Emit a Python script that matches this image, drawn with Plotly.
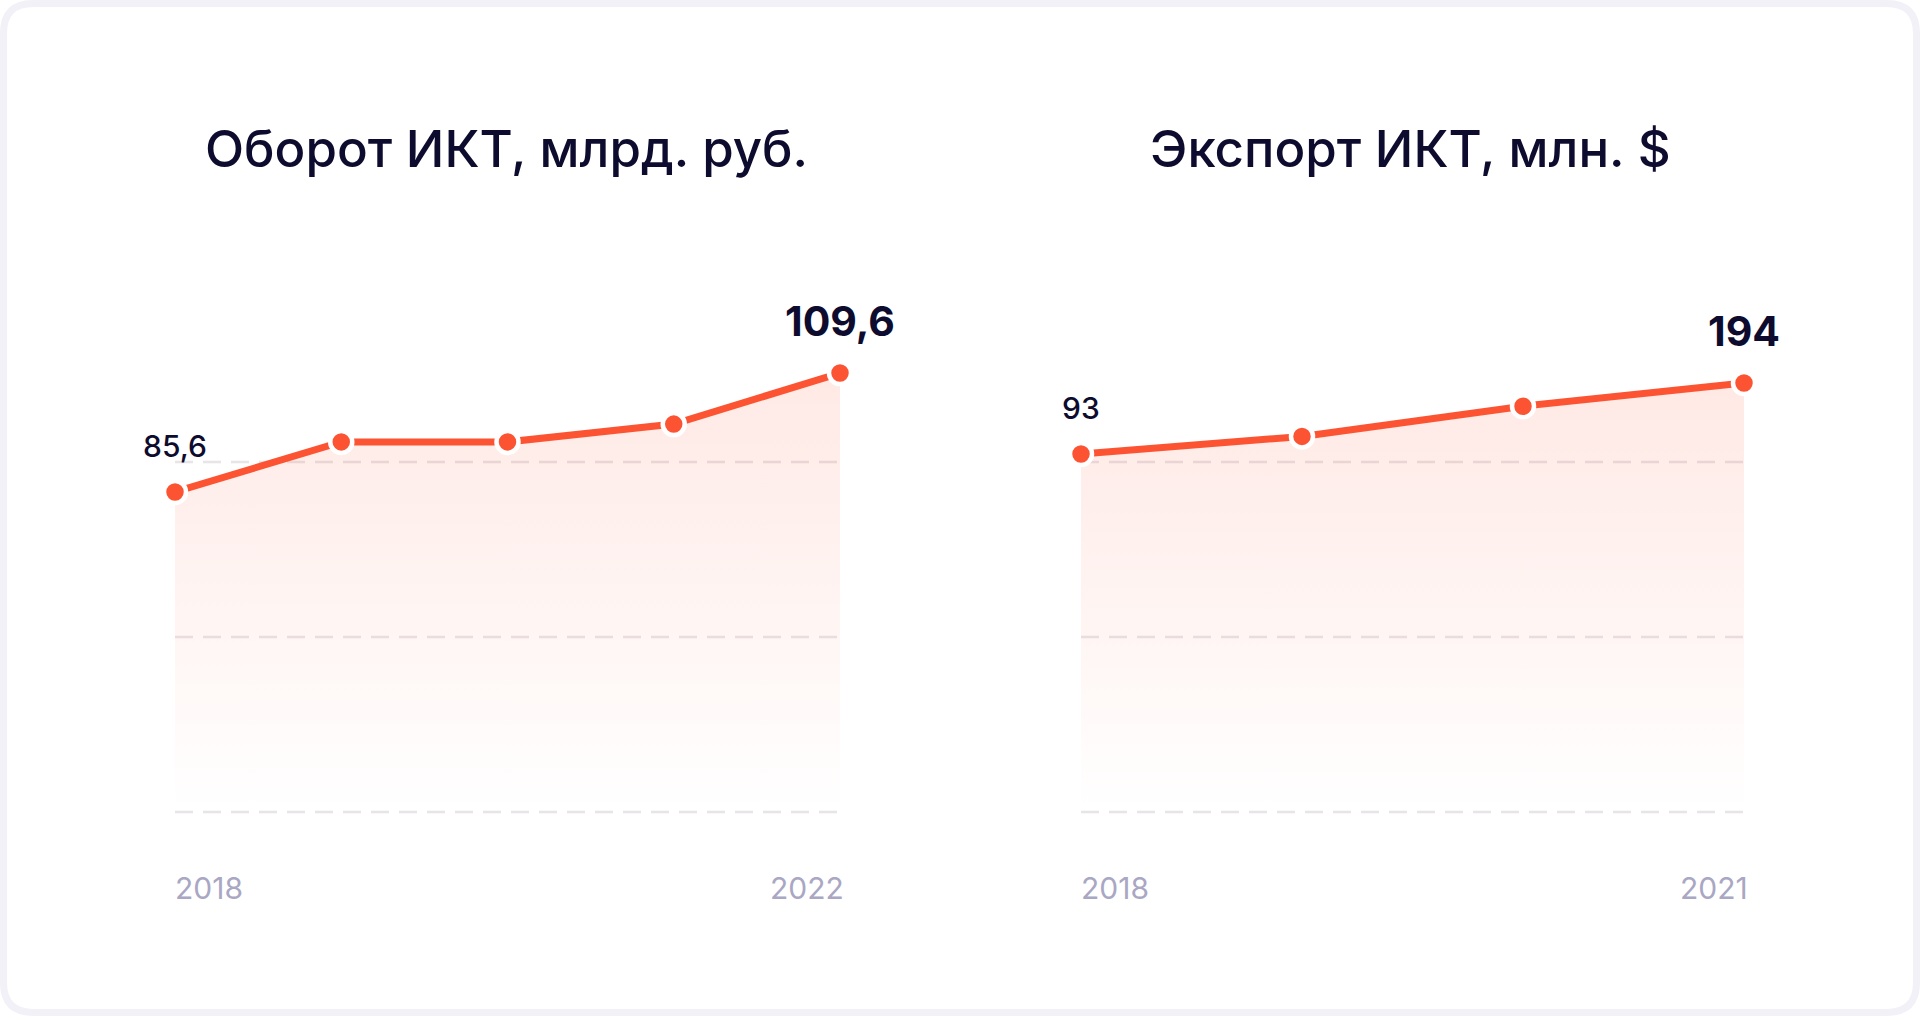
import plotly.graph_objects as go

# ---------------- data ----------------
years_left = [2018, 2019, 2020, 2021, 2022]
turnover = [85.6, 95.7, 95.7, 99.3, 109.6]          # Оборот ИКТ, млрд. руб.
years_right = [2018, 2019, 2020, 2021]
export = [93, 118, 161, 194]                        # Экспорт ИКТ, млн. $
titles = ["Оборот ИКТ, млрд. руб.", "Экспорт ИКТ, млн. $"]

# ---------------- style / layout constants ----------------
W, H = 1920, 1016
FONT = "Inter"
LINE_C = "#FC5433"
TITLE_C = "#0D0B2E"
TICK_C = "#A9A7C3"
GRID_C = "#E8E4E7"
CARD_C = "#F1F1F7"

def fx(p):
    return p / W

def fy(p):
    return 1 - p / H

Y_DOM = [fy(812), fy(250)]
LEFT_XDOM = [fx(175), fx(840)]
RIGHT_XDOM = [fx(1081), fx(1744)]
LEFT_YR = [21.06, 134.41]
RIGHT_YR = [-416.3, 383.2]

fig = go.Figure()

def add_series(xs, ys, xa, ya, yr):
    base = [yr[0]] * len(xs)
    fig.add_trace(go.Scatter(x=xs, y=base, mode="lines", line=dict(width=0),
                             xaxis=xa, yaxis=ya, hoverinfo="skip", showlegend=False))
    fig.add_trace(go.Scatter(
        x=xs, y=ys, mode="lines+markers", xaxis=xa, yaxis=ya,
        fill="tonexty",
        fillgradient=dict(type="vertical", start=yr[0], stop=max(ys),
                          colorscale=[[0, "rgba(252,84,51,0.0)"], [1, "rgba(252,84,51,0.13)"]]),
        line=dict(color=LINE_C, width=7),
        marker=dict(size=22, color=LINE_C, line=dict(color="white", width=4.5)),
        cliponaxis=False, hoverinfo="skip", showlegend=False))

add_series(years_left, turnover, "x", "y", LEFT_YR)
add_series(years_right, export, "x2", "y2", RIGHT_YR)

annotations = []
shapes = []

def fmt_left(v):
    return f"{v:.1f}".replace(".", ",")

def fmt_right(v):
    return f"{v:.0f}"

for xs, ys, xr, yr_, fmt in [(years_left, turnover, "x", "y", fmt_left),
                             (years_right, export, "x2", "y2", fmt_right)]:
    annotations.append(dict(x=xs[0], y=ys[0], xref=xr, yref=yr_, text=fmt(ys[0]),
                            showarrow=False, yanchor="middle", yshift=46,
                            font=dict(family=FONT, size=30, color=TITLE_C, weight=500)))
    annotations.append(dict(x=xs[-1], y=ys[-1], xref=xr, yref=yr_, text=fmt(ys[-1]),
                            showarrow=False, yanchor="middle", yshift=52,
                            font=dict(family=FONT, size=41, color=TITLE_C, weight=700)))
    annotations.append(dict(x=xs[0], y=fy(888), xref=xr, yref="paper", text=str(xs[0]),
                            showarrow=False, xanchor="left", yanchor="middle", xshift=-2,
                            font=dict(family=FONT, size=30, color=TICK_C)))
    annotations.append(dict(x=xs[-1], y=fy(888), xref=xr, yref="paper", text=str(xs[-1]),
                            showarrow=False, xanchor="right", yanchor="middle", xshift=6,
                            font=dict(family=FONT, size=30, color=TICK_C)))

for t, cx in zip(titles, [506, 1410]):
    annotations.append(dict(x=fx(cx), y=fy(149), xref="paper", yref="paper", text=t,
                            showarrow=False, xanchor="center", yanchor="middle",
                            font=dict(family=FONT, size=51, color=TITLE_C, weight=500)))

for xr, yr_ in [("x domain", "y domain"), ("x2 domain", "y2 domain")]:
    for f in [350 / 562, 175 / 562, 0.0]:
        shapes.append(dict(type="line", xref=xr, yref=yr_, x0=0, x1=1.004, y0=f, y1=f,
                           line=dict(color=GRID_C, width=2.5, dash="18px,10px"), layer="below"))

def rr_path(x0, y0, x1, y1, r):
    pts = [
        ("M", (x0 + r, y0)), ("L", (x1 - r, y0)), ("Q", (x1, y0), (x1, y0 + r)),
        ("L", (x1, y1 - r)), ("Q", (x1, y1), (x1 - r, y1)),
        ("L", (x0 + r, y1)), ("Q", (x0, y1), (x0, y1 - r)),
        ("L", (x0, y0 + r)), ("Q", (x0, y0), (x0 + r, y0)),
    ]
    s = ""
    for cmd, *ps in pts:
        s += cmd + " " + " ".join(f"{fx(p[0]):.5f},{fy(p[1]):.5f}" for p in ps) + " "
    return s + "Z"

shapes.append(dict(type="path", xref="paper", yref="paper",
                   path=rr_path(3.5, 3.5, W - 3.5, H - 3.5, 30),
                   line=dict(color=CARD_C, width=7), fillcolor="rgba(0,0,0,0)", layer="below"))

axis_common = dict(showgrid=False, zeroline=False, showline=False, showticklabels=False,
                   ticks="", fixedrange=True)

fig.update_layout(
    width=W, height=H, autosize=False,
    margin=dict(l=0, r=0, t=0, b=0, pad=0),
    paper_bgcolor="white", plot_bgcolor="rgba(0,0,0,0)",
    xaxis=dict(domain=LEFT_XDOM, range=[years_left[0], years_left[-1]], anchor="y", **axis_common),
    yaxis=dict(domain=Y_DOM, range=LEFT_YR, anchor="x", **axis_common),
    xaxis2=dict(domain=RIGHT_XDOM, range=[years_right[0], years_right[-1]], anchor="y2", **axis_common),
    yaxis2=dict(domain=Y_DOM, range=RIGHT_YR, anchor="x2", **axis_common),
    annotations=annotations, shapes=shapes,
    font=dict(family=FONT),
    showlegend=False,
)

fig.write_html("out.html", config={"displayModeBar": False})
